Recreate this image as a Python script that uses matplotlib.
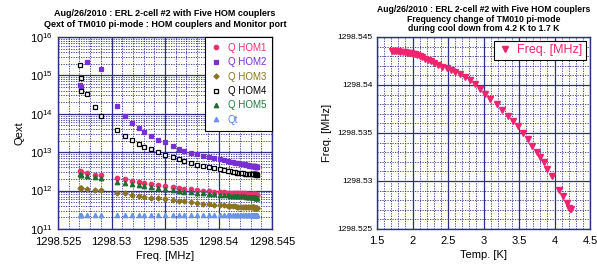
import numpy as np
import matplotlib
matplotlib.use("Agg")
import matplotlib.pyplot as plt
from matplotlib.ticker import MultipleLocator, LogLocator, FuncFormatter, NullFormatter

plt.rcParams['font.family'] = ['Liberation Sans', 'DejaVu Sans']

# cool down data: temperature [K] and TM010 pi-mode frequency [MHz]
temp = [1.71, 1.74, 1.77, 1.80, 1.83, 1.86, 1.89, 1.92, 1.95, 1.98,
        2.01, 2.04, 2.07, 2.10, 2.14, 2.18, 2.22, 2.26, 2.30, 2.36,
        2.42, 2.48, 2.54, 2.60, 2.67, 2.74, 2.81, 2.88, 2.95, 3.02,
        3.09, 3.19, 3.26, 3.34, 3.41, 3.48, 3.55, 3.62, 3.68, 3.75,
        3.80, 3.85, 3.90, 3.97, 4.06, 4.12, 4.17, 4.21, 4.22, 4.23]
freq = [1298.54357, 1298.54355, 1298.54353, 1298.54350, 1298.54347,
        1298.54344, 1298.54341, 1298.54338, 1298.54334, 1298.54330,
        1298.54325, 1298.54318, 1298.54310, 1298.54300, 1298.54288,
        1298.54275, 1298.54260, 1298.54245, 1298.54230, 1298.54208,
        1298.54186, 1298.54175, 1298.54158, 1298.54135, 1298.54110,
        1298.54087, 1298.54050, 1298.54010, 1298.53960, 1298.53910,
        1298.53855, 1298.53802, 1298.53740, 1298.53677, 1298.53628,
        1298.53573, 1298.53497, 1298.53434, 1298.53368, 1298.53299,
        1298.53253, 1298.53195, 1298.53125, 1298.53052, 1298.52906,
        1298.52847, 1298.52774, 1298.52716, 1298.52710, 1298.52705]

# Qext at the same points
q_hom1 = [7.8e11, 7.8e11, 7.9e11, 7.9e11, 7.9e11, 8.0e11, 8.0e11, 8.0e11, 8.1e11, 8.1e11,
          8.1e11, 8.2e11, 8.2e11, 8.2e11, 8.3e11, 8.3e11, 8.3e11, 8.4e11, 8.4e11, 8.4e11,
          8.5e11, 8.5e11, 8.5e11, 8.6e11, 8.7e11, 8.8e11, 9.0e11, 9.2e11, 9.4e11, 9.7e11,
          1.0e12, 1.04e12, 1.08e12, 1.12e12, 1.16e12, 1.22e12, 1.3e12, 1.4e12, 1.5e12, 1.6e12,
          1.7e12, 1.8e12, 1.95e12, 2.1e12, 2.5e12, 2.6e12, 2.8e12, 3.0e12, 3.1e12, 3.2e12]
q_hom2 = [4.1e12, 4.1e12, 4.15e12, 4.15e12, 4.2e12, 4.2e12, 4.25e12, 4.25e12, 4.3e12, 4.3e12,
          4.3e12, 4.35e12, 4.4e12, 4.45e12, 4.5e12, 4.6e12, 4.7e12, 4.8e12, 4.9e12, 5.0e12,
          5.1e12, 5.2e12, 5.3e12, 5.4e12, 5.6e12, 5.8e12, 6.1e12, 6.5e12, 6.9e12, 7.4e12,
          8.1e12, 9.0e12, 9.7e12, 1.1e13, 1.2e13, 1.45e13, 1.8e13, 2.1e13, 2.6e13, 3.4e13,
          4.2e13, 5.6e13, 8.7e13, 1.6e14, 1.5e15, np.nan, 2.2e15, 4.4e14, 5.0e14, 5.6e14]
q_hom3 = [3.5e11, 3.5e11, 3.55e11, 3.55e11, 3.55e11, 3.6e11, 3.6e11, 3.6e11, 3.6e11, 3.65e11,
          3.65e11, 3.65e11, 3.7e11, 3.7e11, 3.7e11, 3.7e11, 3.75e11, 3.75e11, 3.8e11, 3.8e11,
          3.85e11, 3.85e11, 3.9e11, 3.9e11, 3.95e11, 4.0e11, 4.1e11, 4.2e11, 4.3e11, 4.4e11,
          4.6e11, 4.8e11, 5.0e11, 5.3e11, 5.5e11, 5.7e11, 6.1e11, 6.3e11, 6.6e11, 7.0e11,
          7.4e11, 7.6e11, 8.4e11, 8.9e11, 1.02e12, 1.06e12, 1.12e12, 1.18e12, 1.2e12, 1.2e12]
q_hom4 = [2.6e12, 2.6e12, 2.6e12, 2.65e12, 2.65e12, 2.65e12, 2.7e12, 2.7e12, 2.7e12, 2.7e12,
          2.7e12, 2.72e12, 2.72e12, 2.75e12, 2.75e12, 2.75e12, 2.78e12, 2.78e12, 2.8e12, 2.85e12,
          2.9e12, 2.95e12, 3.0e12, 3.1e12, 3.2e12, 3.3e12, 3.4e12, 3.6e12, 3.8e12, 4.1e12,
          4.4e12, 4.7e12, 5.3e12, 6.0e12, 6.6e12, 7.4e12, 8.3e12, 1.0e13, 1.2e13, 1.4e13,
          1.6e13, 2.1e13, 2.6e13, 3.8e13, 9.0e13, 1.5e14, 3.2e14, 3.9e14, 8.4e14, 1.9e15]
q_hom5 = [6.5e11, 6.5e11, 6.6e11, 6.6e11, 6.6e11, 6.7e11, 6.7e11, 6.7e11, 6.8e11, 6.8e11,
          6.8e11, 6.9e11, 6.9e11, 6.9e11, 7.0e11, 7.0e11, 7.0e11, 7.1e11, 7.1e11, 7.1e11,
          7.2e11, 7.2e11, 7.2e11, 7.3e11, 7.4e11, 7.5e11, 7.6e11, 7.8e11, 8.0e11, 8.2e11,
          8.5e11, 8.8e11, 9.1e11, 9.4e11, 9.8e11, 1.02e12, 1.08e12, 1.15e12, 1.22e12, 1.3e12,
          1.38e12, 1.45e12, 1.6e12, 1.7e12, 2.1e12, 2.2e12, 2.4e12, 2.5e12, 2.6e12, 2.7e12]
q_t = [2.25e11, 2.25e11, 2.25e11, 2.25e11, 2.25e11, 2.25e11, 2.25e11, 2.25e11, 2.25e11, 2.25e11,
       2.25e11, 2.25e11, 2.25e11, 2.25e11, 2.25e11, 2.25e11, 2.25e11, 2.25e11, 2.3e11, 2.3e11,
       2.3e11, 2.3e11, 2.3e11, 2.3e11, 2.3e11, 2.3e11, 2.3e11, 2.3e11, 2.3e11, 2.3e11,
       2.3e11, 2.3e11, 2.3e11, 2.3e11, 2.3e11, 2.3e11, 2.3e11, 2.3e11, 2.3e11, 2.3e11,
       2.3e11, 2.3e11, 2.3e11, 2.35e11, 2.35e11, 2.35e11, 2.35e11, 2.35e11, 2.35e11, 2.35e11]

navy = '#2e2e8f'
pink = '#f0246e'

fig = plt.figure(figsize=(5.97, 2.64), dpi=100)
ax1 = fig.add_axes([0.0972, 0.1326, 0.3585, 0.7273])
ax2 = fig.add_axes([0.6315, 0.1326, 0.3568, 0.7273])


def style_grid(ax):
    ax.grid(True, which='major', color=navy, linewidth=0.9, linestyle='-')
    ax.grid(True, which='minor', color=navy, linewidth=0.6, linestyle=(0, (1.5, 1.5)))
    for s in ax.spines.values():
        s.set_color(navy)
        s.set_linewidth(1.0)
    ax.tick_params(which='both', length=0, pad=3)
    ax.set_axisbelow(True)


def fmt_mhz(v, pos):
    return f"{v:.3f}".rstrip('0').rstrip('.')


# ---- left: Qext vs frequency ----
series = [
    ('Q HOM1', q_hom1, 'o', '#e8336e', '#e8336e', '#e8336e'),
    ('Q HOM2', q_hom2, 's', '#7a2fd6', '#7a2fd6', '#7a2fd6'),
    ('Q HOM3', q_hom3, 'D', '#8a7424', '#8a7424', '#8a7424'),
    ('Q HOM4', q_hom4, 's', 'white', 'black', 'black'),
    ('Q HOM5', q_hom5, '^', '#1f6e2f', '#1f6e2f', '#1f7a3a'),
    ('Qt', q_t, '^', '#6b93e6', '#6b93e6', '#5c86e0'),
]
for name, q, m, fc, ec, tc in series:
    ms = 3.2 if m != 'D' else 2.6
    ax1.plot(freq, q, linestyle='none', marker=m, markersize=ms,
             markerfacecolor=fc, markeredgecolor=ec, markeredgewidth=0.9, label=name)

ax1.set_yscale('log')
ax1.set_xlim(1298.525, 1298.545)
ax1.set_ylim(1e11, 1e16)
ax1.xaxis.set_major_locator(MultipleLocator(0.005))
ax1.xaxis.set_minor_locator(MultipleLocator(0.001))
ax1.xaxis.set_major_formatter(FuncFormatter(fmt_mhz))
ax1.yaxis.set_major_locator(LogLocator(base=10, numticks=10))
ax1.yaxis.set_minor_locator(LogLocator(base=10, subs=np.arange(2, 10), numticks=20))
ax1.yaxis.set_minor_formatter(NullFormatter())
style_grid(ax1)
ax1.tick_params(labelsize=8)
ax1.tick_params(axis='x', pad=6)
ax1.tick_params(axis='y', pad=4)
ax1.set_xlabel('Freq. [MHz]', fontsize=8, labelpad=3)
ax1.set_ylabel('Qext', fontsize=8, labelpad=4)
ax1.set_title('Aug/26/2010 : ERL 2-cell #2 with Five HOM couplers\n'
              'Qext of TM010 pi-mode : HOM couplers and Monitor port',
              fontsize=6.5, fontweight='bold', pad=7, linespacing=1.3)

leg1 = ax1.legend(loc='upper right', bbox_to_anchor=(1.0, 1.0), borderaxespad=0,
                  fontsize=7, frameon=True, fancybox=False, framealpha=1,
                  handletextpad=0.6, labelspacing=0.45, borderpad=0.6, handlelength=1.2)
leg1.get_frame().set_edgecolor('black')
leg1.get_frame().set_linewidth(0.8)
for txt, s in zip(leg1.get_texts(), series):
    txt.set_color(s[5])

# ---- right: frequency vs temperature ----
ax2.plot(temp, freq, linestyle='none', marker='v', markersize=4.5,
         color=pink, markeredgecolor=pink, label='Freq. [MHz]')
ax2.set_xlim(1.5, 4.5)
ax2.set_ylim(1298.525, 1298.545)
ax2.xaxis.set_major_locator(MultipleLocator(0.5))
ax2.xaxis.set_minor_locator(MultipleLocator(0.1))
ax2.yaxis.set_major_locator(MultipleLocator(0.005))
ax2.yaxis.set_minor_locator(MultipleLocator(0.001))
ax2.yaxis.set_major_formatter(FuncFormatter(fmt_mhz))
ax2.xaxis.set_major_formatter(FuncFormatter(lambda v, p: f"{v:g}"))
style_grid(ax2)
ax2.tick_params(axis='x', labelsize=8, pad=5)
ax2.tick_params(axis='y', labelsize=6)
ax2.set_xlabel('Temp. [K]', fontsize=8, labelpad=3)
ax2.set_ylabel('Freq. [MHz]', fontsize=8, labelpad=4)
ax2.set_title('Aug/26/2010 : ERL 2-cell #2 with Five HOM couplers\n'
              'Frequency change of TM010 pi-mode\n'
              'during cool down from 4.2 K to 1.7 K',
              fontsize=6.2, fontweight='bold', pad=4, linespacing=1.1)

leg2 = ax2.legend(loc='upper right', borderaxespad=0.3, fontsize=9, frameon=True,
                  fancybox=False, framealpha=1, handletextpad=0.4, borderpad=0.3,
                  handlelength=1.2)
leg2.get_frame().set_edgecolor('black')
leg2.get_frame().set_linewidth(0.8)
leg2.get_texts()[0].set_color(pink)

fig.savefig('out.png', dpi=100)
